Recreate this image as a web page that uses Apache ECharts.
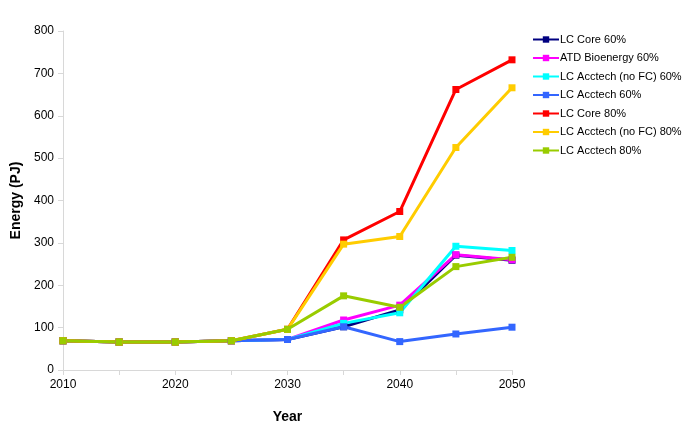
<!DOCTYPE html>
<html>
<head>
<meta charset="utf-8">
<script src="https://cdn.jsdelivr.net/npm/echarts@6/dist/echarts.min.js"></script>
<style>
  html, body { margin: 0; padding: 0; background: #fff; }
  #chart { width: 685px; height: 431px; }
</style>
</head>
<body>
<div id="chart"></div>
<script>
const years = [2010, 2015, 2020, 2025, 2030, 2035, 2040, 2045, 2050];

const lcCore60 = [69, 66, 66, 69, 72, 102, 142, 271, 259];
const atdBio60 = [69, 66, 66, 69, 72, 118, 153, 272, 260];
const lcAccNoFc60 = [69, 66, 66, 69, 72, 110, 135, 292, 282];
const lcAcc60 = [69, 66, 66, 69, 72, 102, 67, 85, 101];
const lcCore80 = [69, 66, 66, 69, 96, 307, 374, 662, 732];
const lcAccNoFc80 = [69, 66, 66, 69, 96, 297, 315, 525, 666];
const lcAcc80 = [69, 66, 66, 69, 96, 175, 148, 244, 266];

const seriesNames = [
  'LC Core 60%', 'ATD Bioenergy 60%', 'LC Acctech (no FC) 60%', 'LC Acctech 60%',
  'LC Core 80%', 'LC Acctech (no FC) 80%', 'LC Acctech 80%'
];
const seriesData = [lcCore60, atdBio60, lcAccNoFc60, lcAcc60, lcCore80, lcAccNoFc80, lcAcc80];
const colors = ['#000080', '#ff00ff', '#00ffff', '#3366ff', '#ff0000', '#ffcc00', '#99cc00'];

const chart = echarts.init(document.getElementById('chart'));

const option = {
  animation: false,
  grid: { left: 63, right: 173, top: 31, bottom: 61 },
  legend: {
    orient: 'vertical',
    left: 527,
    top: 29,
    itemWidth: 26,
    itemHeight: 8,
    itemGap: 7.5,
    data: seriesNames,
    textStyle: { fontFamily: 'Liberation Sans', fontSize: 11, color: '#000', padding: [0, 0, 0, -4] }
  },
  xAxis: {
    type: 'value',
    min: 2010,
    max: 2050,
    interval: 5,
    name: 'Year',
    nameLocation: 'middle',
    nameGap: 40,
    nameTextStyle: { fontFamily: 'Liberation Sans', fontSize: 14, fontWeight: 'bold', color: '#000' },
    axisLine: { lineStyle: { color: '#d8d8d8' } },
    axisTick: { show: true, length: 5, lineStyle: { color: '#d8d8d8' } },
    axisLabel: {
      fontFamily: 'Liberation Sans', fontSize: 12, color: '#000', margin: 9,
      formatter: v => (v % 10 === 0 ? String(v) : '')
    },
    splitLine: { show: false }
  },
  yAxis: {
    type: 'value',
    min: 0,
    max: 800,
    interval: 100,
    name: 'Energy (PJ)',
    nameLocation: 'middle',
    nameGap: 38,
    nameTextStyle: { fontFamily: 'Liberation Sans', fontSize: 14, fontWeight: 'bold', color: '#000' },
    axisLine: { show: true, lineStyle: { color: '#d8d8d8' } },
    axisTick: { show: true, length: 5, lineStyle: { color: '#d8d8d8' } },
    axisLabel: { fontFamily: 'Liberation Sans', fontSize: 12, color: '#000', margin: 9 },
    splitLine: { show: false }
  },
  series: seriesNames.map((name, i) => ({
    name: name,
    type: 'line',
    data: years.map((y, j) => [y, seriesData[i][j]]),
    symbol: 'rect',
    symbolSize: 7,
    lineStyle: { width: 3, color: colors[i] },
    itemStyle: { color: colors[i] }
  }))
};

chart.setOption(option);
</script>
</body>
</html>
